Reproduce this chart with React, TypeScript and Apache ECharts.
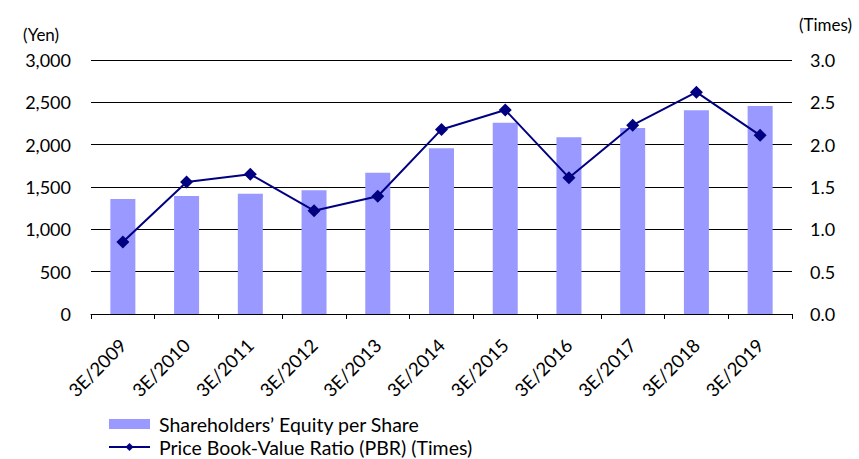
import React, { useEffect, useRef } from "react";
import * as echarts from "echarts";

const categories = ["3E/2009", "3E/2010", "3E/2011", "3E/2012", "3E/2013", "3E/2014", "3E/2015", "3E/2016", "3E/2017", "3E/2018", "3E/2019"];
const equityPerShare = [1358, 1393, 1421, 1461, 1669, 1957, 2260, 2087, 2197, 2406, 2457];
const pbr = [0.85, 1.56, 1.65, 1.22, 1.39, 2.18, 2.41, 1.61, 2.23, 2.62, 2.11];
const leftTicks = { min: 0, max: 3000, interval: 500 };
const rightTicks = { min: 0, max: 3, interval: 0.5 };

const FONT = "Lato, 'Open Sans', sans-serif";

export default function App() {
  const ref = useRef<HTMLDivElement>(null);
  useEffect(() => {
    if (!ref.current) return;
    const chart = echarts.init(ref.current, undefined, { renderer: "svg" });
    chart.setOption({
      animation: false,
      textStyle: { fontFamily: FONT, color: "#000" },
      grid: { left: 91, right: 67, top: 60, bottom: 145 },
      graphic: [
        { type: "text", left: 23, top: 26, style: { text: "(Yen)", fontSize: 17, fontFamily: FONT, fill: "#000" } },
        { type: "text", left: 799, top: 16, style: { text: "(Times)", fontSize: 17, fontFamily: FONT, fill: "#000" } },
      ],
      legend: {
        orient: "vertical",
        left: 108,
        top: 414,
        padding: 0,
        itemWidth: 41,
        itemHeight: 10,
        itemGap: 3,
        textStyle: { fontSize: 19.5, lineHeight: 20, fontFamily: FONT, color: "#000", padding: [0, 0, 0, 4] },
        data: [
          { name: "Shareholders’ Equity per Share", icon: "rect" },
          { name: "Price Book-Value Ratio (PBR) (Times)" },
        ],
      },
      xAxis: {
        type: "category",
        data: categories,
        boundaryGap: true,
        axisLine: { lineStyle: { color: "#000", width: 1 } },
        axisTick: { show: true, length: 5, lineStyle: { color: "#000" } },
        axisLabel: { rotate: 45, margin: 28, fontSize: 18.5, fontFamily: FONT, color: "#000", interval: 0 },
      },
      yAxis: [
        {
          type: "value",
          min: leftTicks.min,
          max: leftTicks.max,
          interval: leftTicks.interval,
          axisLine: { show: false },
          axisTick: { show: false },
          splitLine: { lineStyle: { color: "#000", width: 1 } },
          axisLabel: {
            margin: 20,
            fontSize: 18,
            fontFamily: FONT,
            color: "#000",
            formatter: (v: number) => v.toLocaleString("en-US"),
          },
        },
        {
          type: "value",
          min: rightTicks.min,
          max: rightTicks.max,
          interval: rightTicks.interval,
          axisLine: { show: false },
          axisTick: { show: false },
          splitLine: { show: false },
          axisLabel: {
            margin: 18,
            fontSize: 18,
            fontFamily: FONT,
            color: "#000",
            formatter: (v: number) => v.toFixed(1),
          },
        },
      ],
      series: [
        {
          name: "Shareholders’ Equity per Share",
          type: "bar",
          data: equityPerShare,
          barWidth: 25,
          itemStyle: { color: "#9999FF" },
          yAxisIndex: 0,
        },
        {
          name: "Price Book-Value Ratio (PBR) (Times)",
          type: "line",
          data: pbr,
          yAxisIndex: 1,
          symbol: "diamond",
          symbolSize: 13,
          lineStyle: { color: "#000080", width: 2 },
          itemStyle: { color: "#000080" },
        },
      ],
    });
    return () => chart.dispose();
  }, []);
  return <div ref={ref} style={{ position: "absolute", left: 0, top: 0, width: 859, height: 459 }} />;
}
